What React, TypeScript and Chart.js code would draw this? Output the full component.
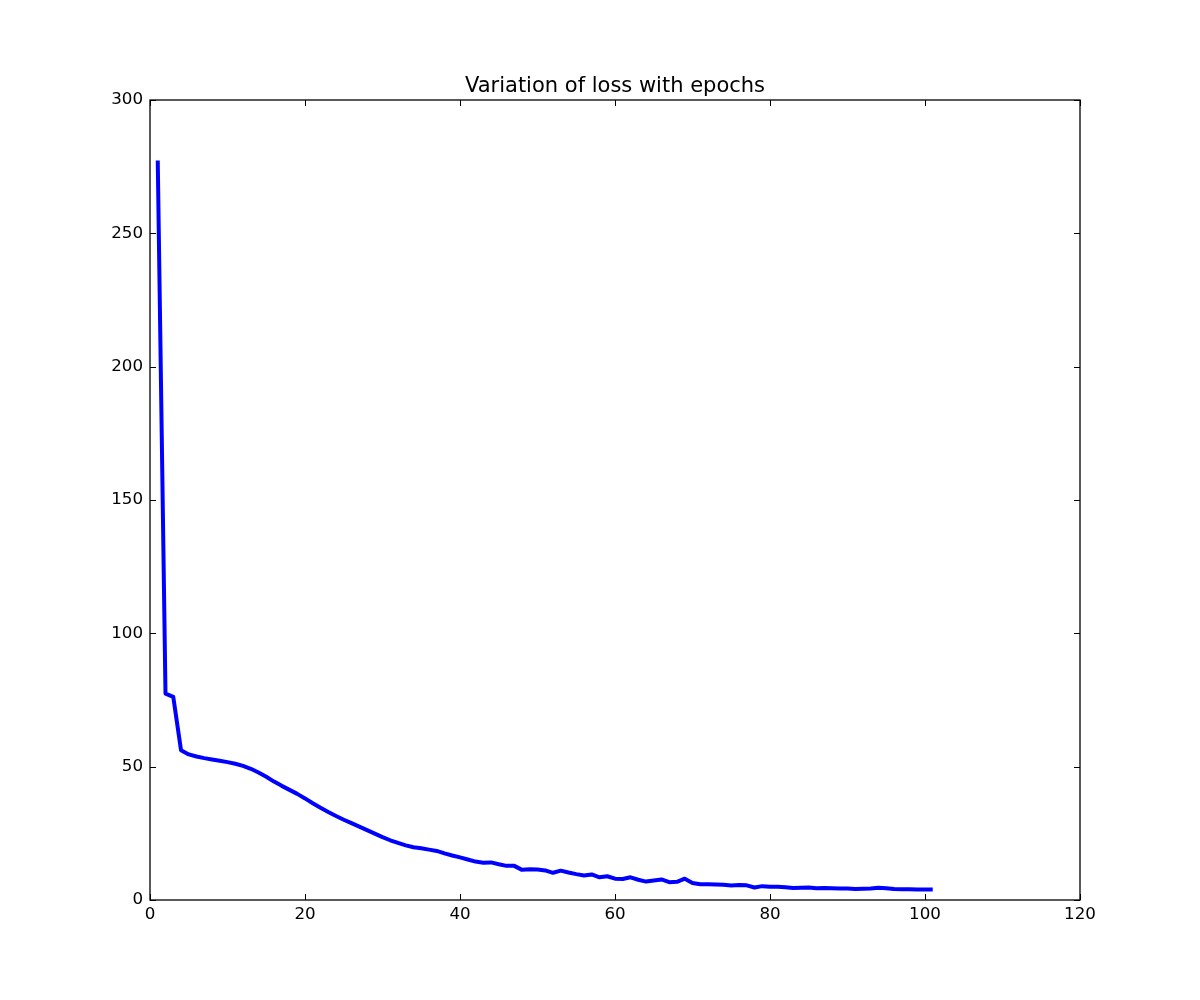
import { useEffect, useRef } from "react"
import { Chart, registerables } from "chart.js"
import type { Plugin } from "chart.js"

Chart.register(...registerables)

const chartTitle = "Variation of loss with epochs"

const epochs = [
  1, 2, 3, 4, 5, 6, 7, 8, 9, 10, 11, 12, 13, 14, 15, 16, 17, 18, 19, 20,
  21, 22, 23, 24, 25, 26, 27, 28, 29, 30, 31, 32, 33, 34, 35, 36, 37, 38, 39, 40,
  41, 42, 43, 44, 45, 46, 47, 48, 49, 50, 51, 52, 53, 54, 55, 56, 57, 58, 59, 60,
  61, 62, 63, 64, 65, 66, 67, 68, 69, 70, 71, 72, 73, 74, 75, 76, 77, 78, 79, 80,
  81, 82, 83, 84, 85, 86, 87, 88, 89, 90, 91, 92, 93, 94, 95, 96, 97, 98, 99, 100,
  101,
]

const loss = [
  277.3, 77.4, 76.2, 56.2, 54.6, 53.8, 53.2, 52.7, 52.2, 51.7,
  51.1, 50.3, 49.2, 47.8, 46.2, 44.4, 42.8, 41.3, 39.8, 38.1,
  36.3, 34.6, 33.0, 31.5, 30.1, 28.8, 27.5, 26.2, 24.9, 23.6,
  22.4, 21.4, 20.5, 19.8, 19.4, 18.9, 18.4, 17.5, 16.7, 16.0,
  15.2, 14.4, 14.0, 14.1, 13.4, 12.8, 12.8, 11.3, 11.5, 11.4,
  11.1, 10.2, 11.0, 10.3, 9.7, 9.2, 9.6, 8.5, 8.9, 8.0,
  7.9, 8.5, 7.6, 6.9, 7.3, 7.7, 6.7, 6.8, 8.0, 6.4,
  5.9, 5.9, 5.8, 5.7, 5.4, 5.6, 5.5, 4.7, 5.2, 5.0,
  5.0, 4.8, 4.5, 4.6, 4.7, 4.4, 4.5, 4.4, 4.3, 4.3,
  4.1, 4.2, 4.3, 4.6, 4.4, 4.1, 4.0, 4.0, 3.9, 3.9,
  3.9,
]

const font = "'DejaVu Sans', sans-serif"

// matplotlib-style frame: box on all four sides, ticks pointing inward, title on top
const framePlugin: Plugin<"line"> = {
  id: "frame",
  afterDraw(chart) {
    const { ctx, chartArea, scales } = chart
    const { left, right, top, bottom } = chartArea
    const x = scales.x
    const y = scales.y
    ctx.save()
    ctx.strokeStyle = "#000"
    ctx.lineWidth = 1
    ctx.beginPath()
    x.ticks.forEach((t) => {
      const px = Math.round(x.getPixelForValue(t.value)) + 0.5
      ctx.moveTo(px, bottom)
      ctx.lineTo(px, bottom - 6)
      ctx.moveTo(px, top)
      ctx.lineTo(px, top + 6)
    })
    y.ticks.forEach((t) => {
      const py = Math.round(y.getPixelForValue(t.value)) + 0.5
      ctx.moveTo(left, py)
      ctx.lineTo(left + 6, py)
      ctx.moveTo(right, py)
      ctx.lineTo(right - 6, py)
    })
    ctx.stroke()
    ctx.lineWidth = 1.3
    ctx.strokeRect(left, top, right - left, bottom - top)
    ctx.fillStyle = "#000"
    ctx.font = `21px ${font}`
    ctx.textAlign = "center"
    ctx.textBaseline = "alphabetic"
    ctx.fillText(chartTitle, (left + right) / 2, top - 8)
    ctx.restore()
  },
}

export default function App() {
  const canvasRef = useRef<HTMLCanvasElement>(null)
  const chartRef = useRef<Chart<"line"> | null>(null)

  useEffect(() => {
    document.body.style.margin = "0"
    if (!canvasRef.current) return
    if (chartRef.current) chartRef.current.destroy()

    chartRef.current = new Chart(canvasRef.current, {
      type: "line",
      data: {
        datasets: [
          {
            data: epochs.map((e, i) => ({ x: e, y: loss[i] })),
            borderColor: "#0000ff",
            borderWidth: 4,
            pointRadius: 0,
            tension: 0,
            fill: false,
            borderJoinStyle: "round",
          },
        ],
      },
      options: {
        animation: false,
        responsive: false,
        devicePixelRatio: 1,
        layout: { padding: { top: 100, right: 120, left: 0, bottom: 0 } },
        scales: {
          x: {
            type: "linear",
            min: 0,
            max: 120,
            ticks: {
              stepSize: 20,
              color: "#000",
              padding: 5,
              maxRotation: 0,
              font: { family: font, size: 16.7 },
            },
            grid: { display: false, drawTicks: false },
            border: { display: false },
            afterFit: (scale) => {
              scale.height = 100
            },
          },
          y: {
            type: "linear",
            min: 0,
            max: 300,
            ticks: {
              stepSize: 50,
              color: "#000",
              padding: 7,
              font: { family: font, size: 16.7 },
            },
            grid: { display: false, drawTicks: false },
            border: { display: false },
            afterFit: (scale) => {
              scale.width = 150
            },
          },
        },
        plugins: {
          legend: { display: false },
          tooltip: { enabled: false },
          title: { display: false },
        },
      },
      plugins: [framePlugin],
    })

    return () => {
      if (chartRef.current) {
        chartRef.current.destroy()
        chartRef.current = null
      }
    }
  }, [])

  return (
    <div style={{ width: 1200, height: 1000, background: "#fff" }}>
      <canvas ref={canvasRef} width={1200} height={1000} />
    </div>
  )
}
